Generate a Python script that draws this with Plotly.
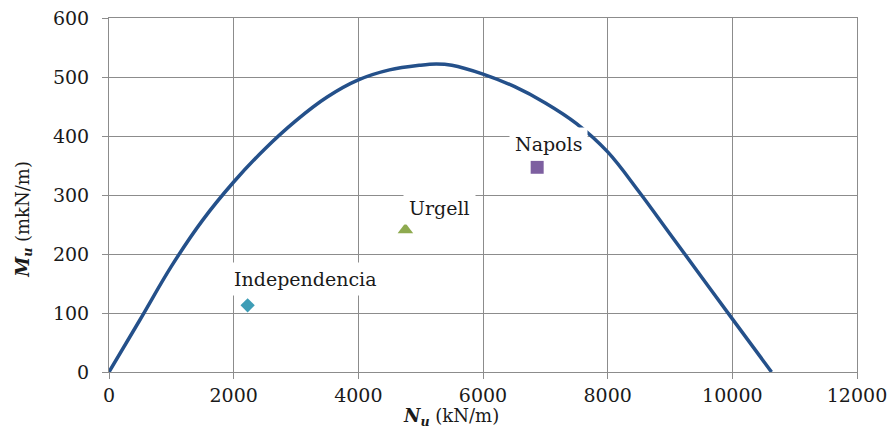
import plotly.graph_objects as go

# Interaction curve (N_u, M_u)
curve_n = [0, 500, 1000, 1500, 2000, 2500, 3000, 3500, 4000, 4500, 5000, 5250,
           5500, 6000, 6500, 7000, 7500, 8000, 8500, 9000, 9500, 10000, 10629]
curve_m = [0, 89, 179, 257, 322, 378, 426, 466, 495, 512, 520, 522,
           520, 505, 484, 456, 421, 373, 306, 234, 162, 90, 0]

# Measured sections
site_names = ["Independencia", "Urgell", "Napols"]
site_n = [2224, 4755, 6869]
site_m = [113, 241, 347]
site_symbols = ["diamond", "triangle-up", "square"]
site_sizes = [11, 13.5, 13]
site_colors = ["#3E9DB6", "#8EAA4F", "#7D5FA0"]

# Label anchor points (centre of each label)
label_n = [3152, 5296, 7056]
label_m = [157, 278, 386]

x_ticks = [0, 2000, 4000, 6000, 8000, 10000, 12000]
y_ticks = [0, 100, 200, 300, 400, 500, 600]

FONT = "DejaVu Serif"
GRID = "#8C8C8C"
TEXT = "#1a1a1a"

fig = go.Figure()
fig.add_trace(go.Scatter(
    x=curve_n, y=curve_m, mode="lines",
    line=dict(color="#24508A", width=3.5, shape="spline", smoothing=1),
    hoverinfo="skip", showlegend=False,
))
for name, n, m, sym, sz, col in zip(site_names, site_n, site_m, site_symbols, site_sizes, site_colors):
    fig.add_trace(go.Scatter(
        x=[n], y=[m], mode="markers", name=name,
        marker=dict(symbol=sym, size=sz, color=col, line=dict(width=0)),
        showlegend=False,
    ))

for name, n, m in zip(site_names, label_n, label_m):
    fig.add_annotation(
        x=n, y=m, xref="x", yref="y", text=name, showarrow=False,
        font=dict(family=FONT, size=19, color=TEXT),
        bgcolor="white", borderpad=5, xanchor="center", yanchor="middle",
    )

# Axis titles
fig.add_annotation(
    x=0.457, y=-0.127, xref="paper", yref="paper",
    text="<b><i>N</i></b><sub><b><i>u</i></b></sub> (kN/m)",
    showarrow=False, font=dict(family=FONT, size=18, color=TEXT),
    xanchor="center", yanchor="middle",
)
fig.add_annotation(
    x=-0.114, y=0.432, xref="paper", yref="paper",
    text="<b><i>M</i></b><sub><b><i>u</i></b></sub> (mkN/m)",
    showarrow=False, textangle=-90, font=dict(family=FONT, size=18, color=TEXT),
    xanchor="center", yanchor="middle",
)

axis_common = dict(
    showgrid=True, gridcolor=GRID, gridwidth=1,
    showline=True, linecolor=GRID, linewidth=1, mirror=True,
    ticks="outside", ticklen=6, tickcolor=GRID, tickwidth=1,
    zeroline=False, automargin=False,
    tickfont=dict(family=FONT, size=19, color=TEXT),
)
fig.update_xaxes(range=[0, 12000], tickvals=x_ticks, ticktext=[str(v) for v in x_ticks], **axis_common)
fig.update_yaxes(range=[0, 600], tickvals=y_ticks, ticktext=[str(v) for v in y_ticks],
                 ticklabelstandoff=9, **axis_common)

fig.update_layout(
    width=891, height=429,
    margin=dict(l=109, r=34, t=18, b=57),
    paper_bgcolor="white", plot_bgcolor="white",
    showlegend=False,
    font=dict(family=FONT),
)

fig.write_html("out.html")
